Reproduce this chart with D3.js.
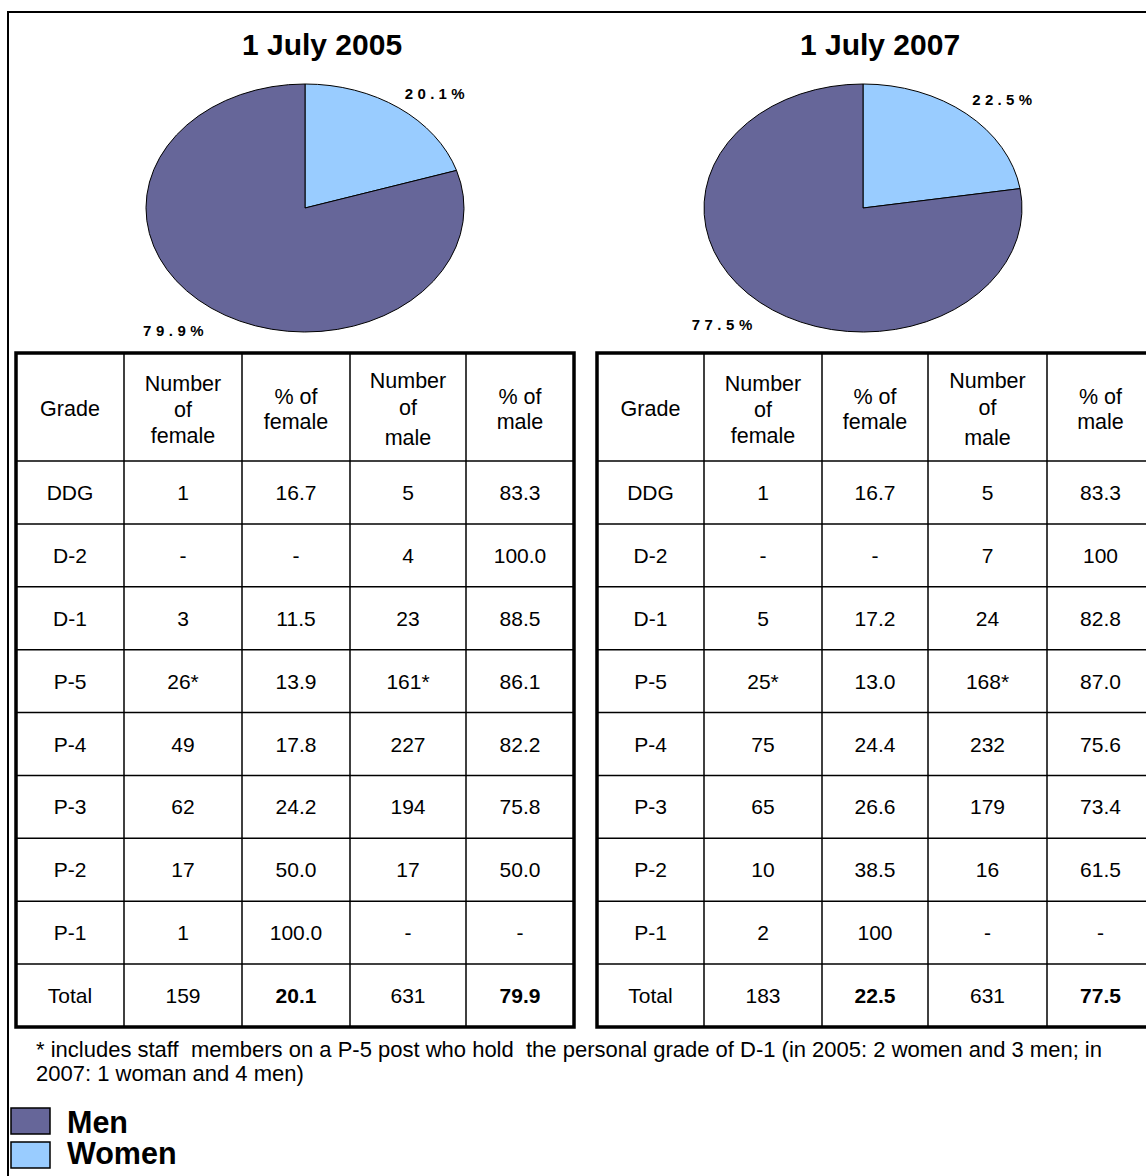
<!DOCTYPE html>
<html><head><meta charset="utf-8">
<script src="https://cdn.jsdelivr.net/npm/d3@7"></script>
<style>
html,body{margin:0;padding:0;background:#fff;}
svg{display:block;}
text{font-family:"Liberation Sans",Arial,sans-serif;fill:#000;}
</style></head>
<body>
<script>
// ---- data ----
const years = ["1 July 2005", "1 July 2007"];
const pieCategories = ["Women", "Men"];
const pie2005 = [20.1, 79.9];
const pie2007 = [22.5, 77.5];
const pieLabels2005 = ["20.1%", "79.9%"];
const pieLabels2007 = ["22.5%", "77.5%"];
const headers = [["Grade"], ["Number", "of", "female"], ["% of", "female"], ["Number", "of", "male"], ["% of", "male"]];
const grades = ["DDG", "D-2", "D-1", "P-5", "P-4", "P-3", "P-2", "P-1", "Total"];
const female2005 = ["1", "-", "3", "26*", "49", "62", "17", "1", "159"];
const pctFemale2005 = ["16.7", "-", "11.5", "13.9", "17.8", "24.2", "50.0", "100.0", "20.1"];
const male2005 = ["5", "4", "23", "161*", "227", "194", "17", "-", "631"];
const pctMale2005 = ["83.3", "100.0", "88.5", "86.1", "82.2", "75.8", "50.0", "-", "79.9"];
const female2007 = ["1", "-", "5", "25*", "75", "65", "10", "2", "183"];
const pctFemale2007 = ["16.7", "-", "17.2", "13.0", "24.4", "26.6", "38.5", "100", "22.5"];
const male2007 = ["5", "7", "24", "168*", "232", "179", "16", "-", "631"];
const pctMale2007 = ["83.3", "100", "82.8", "87.0", "75.6", "73.4", "61.5", "-", "77.5"];
const footnote = ["* includes staff  members on a P-5 post who hold  the personal grade of D-1 (in 2005: 2 women and 3 men; in",
                  "2007: 1 woman and 4 men)"];
const legendItems = ["Men", "Women"];

// ---- layout ----
const W = 1146, H = 1176;
const color = d3.scaleOrdinal().domain(["Men", "Women"]).range(["#666699", "#99CCFF"]);
const svg = d3.select("body").append("svg").attr("width", W).attr("height", H);

function txt(g, x, y, s, o = {}) {
  return g.append("text")
    .attr("x", x).attr("y", y)
    .attr("text-anchor", o.anchor || "middle")
    .attr("font-size", o.size || 21)
    .attr("font-weight", o.bold ? "bold" : "normal")
    .attr("letter-spacing", o.ls || 0)
    .attr("dy", o.dy || 0)
    .style("white-space", "pre")
    .text(s);
}

// outer frame
svg.append("path").attr("d", `M8,${H} L8,12 L${W},12`).attr("fill", "none").attr("stroke", "#000").attr("stroke-width", 2);

const panels = [
  { title: years[0], cx: 305, vals: pie2005, labels: pieLabels2005, titleX: 322,
    cols: [16, 124, 242, 350, 466, 574], data: [grades, female2005, pctFemale2005, male2005, pctMale2005] },
  { title: years[1], cx: 863, vals: pie2007, labels: pieLabels2007, titleX: 880,
    cols: [597, 704, 822, 928, 1047, 1154], data: [grades, female2007, pctFemale2007, male2007, pctMale2007] }
];

const RX = 159, RY = 124, CY = 208;
const pie = d3.pie().sort(null).value(d => d);
const arc = d3.arc().innerRadius(0).outerRadius(RX);

const rowY = d3.scaleBand().domain(grades).range([461, 1027]);
const TOP = 353;

panels.forEach(p => {
  // title
  txt(svg, p.titleX, 55, p.title, { size: 30, bold: true });

  // pie
  const arcs = pie(p.vals);
  const pg = svg.append("g").attr("transform", `translate(${p.cx},${CY}) scale(1,${RY / RX})`);
  pg.selectAll("path").data(arcs).enter().append("path")
    .attr("d", arc)
    .attr("fill", (d, i) => color(pieCategories[i]))
    .attr("stroke", "#000").attr("stroke-width", 1)
    .attr("vector-effect", "non-scaling-stroke");

  // labels
  arcs.forEach((a, i) => {
    const m = (a.startAngle + a.endAngle) / 2;
    const px = p.cx + Math.sin(m) * RX, py = CY - Math.cos(m) * RY;
    if (m < Math.PI) txt(svg, px + 6, py - 9, p.labels[i], { size: 15, bold: true, anchor: "start", ls: 4.3 });
    else txt(svg, px - 3, py + 28, p.labels[i], { size: 15, bold: true, anchor: "end", ls: 4.5 });
  });

  // table
  const tg = svg.append("g");
  const c = p.cols;
  const bottom = rowY.range()[1];
  c.slice(1, 5).forEach(xx => tg.append("line").attr("x1", xx).attr("x2", xx).attr("y1", TOP).attr("y2", bottom).attr("stroke", "#000").attr("stroke-width", 1.5));
  grades.forEach(g => tg.append("line").attr("x1", c[0]).attr("x2", c[5]).attr("y1", rowY(g)).attr("y2", rowY(g)).attr("stroke", "#000").attr("stroke-width", 1.5));
  tg.append("rect").attr("x", c[0]).attr("y", TOP).attr("width", c[5] - c[0]).attr("height", bottom - TOP)
    .attr("fill", "none").attr("stroke", "#000").attr("stroke-width", 3.5);

  // header
  const headerLines = [[408], [383, 409, 435], [396, 421], [380, 407, 437], [396, 421]];
  headers.forEach((h, j) => {
    const mx = (c[j] + c[j + 1]) / 2;
    h.forEach((s, k) => txt(tg, mx, headerLines[j][k], s, { dy: "0.36em", size: 21.5 }));
  });
  // body
  p.data.forEach((colVals, j) => {
    const mx = (c[j] + c[j + 1]) / 2;
    colVals.forEach((v, r) => {
      const bold = r === grades.length - 1 && (j === 2 || j === 4);
      txt(tg, mx, rowY(grades[r]) + rowY.bandwidth() / 2, v, { dy: "0.36em", bold });
    });
  });
});

// footnote
footnote.forEach((s, i) => txt(svg, 36, 1057 + i * 24, s, { anchor: "start", size: 22 }));

// legend
legendItems.forEach((s, i) => {
  const y = 1108 + i * 34;
  svg.append("rect").attr("x", 11).attr("y", y).attr("width", 39).attr("height", 26)
    .attr("fill", color(s)).attr("stroke", "#000").attr("stroke-width", 1.5);
  txt(svg, 67, 1133 + i * 31, s, { anchor: "start", size: 30.5, bold: true });
});
</script>
</body></html>
